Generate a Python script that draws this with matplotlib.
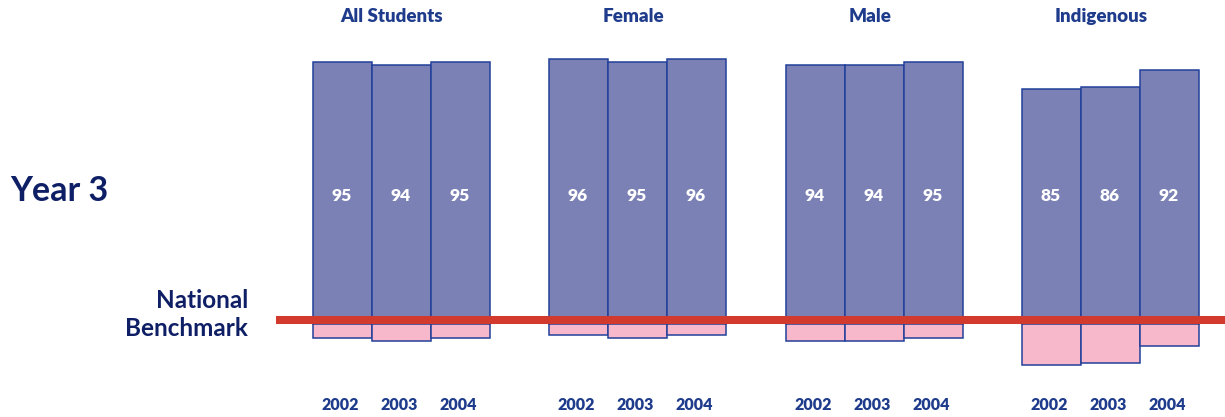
import matplotlib
matplotlib.use("Agg")
import matplotlib.pyplot as plt

# Percentage of students at or above the national benchmark
groups = ["All Students", "Female", "Male", "Indigenous"]
years = ["2002", "2003", "2004"]
all_students = [95, 94, 95]
female = [96, 95, 96]
male = [94, 94, 95]
indigenous = [85, 86, 92]
series = [all_students, female, male, indigenous]

BLUE = "#7b81b5"
EDGE = "#22409a"
PINK = "#f7b8cb"
RED = "#d23a2e"
NAVY = "#0f1f66"
TITLE = "#1f3c8c"

plt.rcParams["font.family"] = ["Lato", "DejaVu Sans"]

fig = plt.figure(figsize=(12.25, 4.17), dpi=100)
ax = fig.add_axes([0, 0, 1, 1])
# x in pixel-like units, y in percentage points (zero = benchmark)
px_per_unit = 2.76
zero_px = 324
ax.set_xlim(0, 1225)
ax.set_ylim(-(417 - zero_px) / px_per_unit, zero_px / px_per_unit)
ax.axis("off")

group_left = [313, 549, 786, 1022]
bar_w = 59
title_x = [392, 633, 870, 1101]

for g, (name, vals) in enumerate(zip(groups, series)):
    xs = [group_left[g] + bar_w * (i + 0.5) for i in range(len(vals))]
    ax.bar(xs, vals, width=bar_w, bottom=0, color=BLUE, edgecolor=EDGE,
           linewidth=1.1, zorder=2)
    ax.bar(xs, [-(100 - v) for v in vals], width=bar_w, bottom=0, color=PINK,
           edgecolor=EDGE, linewidth=1.1, zorder=2)
    for x, v, yr in zip(xs, vals, years):
        ax.text(x - 1, 46.5, f"{v}", ha="center", va="center", color="white",
                fontsize=12.5, fontweight="heavy", zorder=4)
        ax.text(x - 2, -29.3, yr, ha="center", va="center", color=TITLE,
                fontsize=11.5, fontweight="heavy")
    ax.text(title_x[g], 111.5, name, ha="center", va="center", color=TITLE,
            fontsize=13.5, fontweight="heavy")

# National benchmark line
ax.plot([276, 1225], [4 / px_per_unit] * 2,
        color=RED, linewidth=5.8, solid_capstyle="butt", zorder=3)

ax.text(10, (zero_px - 191) / px_per_unit, "Year 3", ha="left", va="center",
        color=NAVY, fontsize=24.5, fontweight="bold")
ax.text(248, (zero_px - 301) / px_per_unit, "National", ha="right",
        va="center", color=NAVY, fontsize=17.5, fontweight="bold")
ax.text(248, (zero_px - 328) / px_per_unit, "Benchmark", ha="right",
        va="center", color=NAVY, fontsize=17.5, fontweight="bold")

fig.savefig("out.png", dpi=100)
